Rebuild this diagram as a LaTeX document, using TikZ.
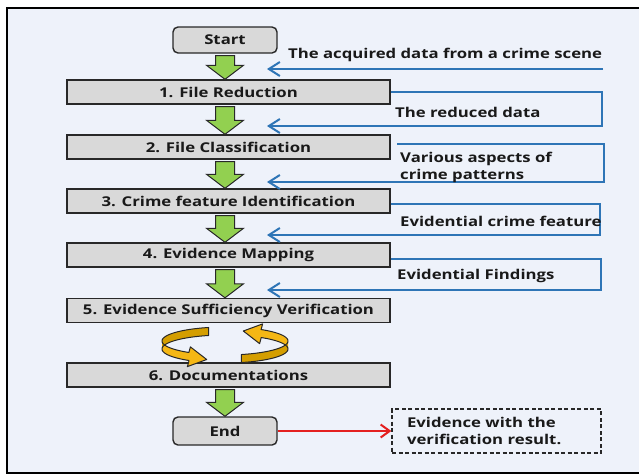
\documentclass[tikz,border=0pt]{standalone}
\usepackage{fontspec}
\setmainfont{Open Sans}[FakeStretch=1.24]
\usetikzlibrary{arrows.meta,calc}
\definecolor{bgc}{RGB}{238,242,250}
\definecolor{boxc}{RGB}{217,217,217}
\definecolor{greenc}{RGB}{146,208,80}
\definecolor{bluec}{RGB}{46,117,182}
\definecolor{redc}{RGB}{228,32,32}
\definecolor{goldf}{RGB}{245,183,20}
\definecolor{goldb}{RGB}{212,158,0}
\definecolor{edge}{RGB}{40,40,40}
\newcommand\grarrow[2]{%
  \filldraw[garr] let \p1=(#1.south), \p2=(#2.north), \p3=(start.south) in
    (\x3-9.5pt,\y1-2pt) -- (\x3+9.5pt,\y1-2pt) -- (\x3+9.5pt,\y2+14pt) --
    (\x3+18.5pt,\y2+14pt) -- (\x3,\y2) -- (\x3-18.5pt,\y2+14pt) --
    (\x3-9.5pt,\y2+14pt) -- cycle;}
\begin{document}
\begin{tikzpicture}[x=1pt,y=-1pt,
  lbl/.style={font=\fontsize{13.5}{17}\selectfont\bfseries, text=black!90, inner sep=0pt},
  stepbox/.style={draw=edge, line width=1.4pt, fill=boxc, minimum width=323pt,
    minimum height=24pt, lbl},
  termbox/.style={stepbox, rounded corners=5pt, minimum width=104pt, minimum height=26pt},
  garr/.style={draw=edge, fill=greenc, line width=1pt, line join=miter},
  bluearr/.style={draw=bluec, line width=2pt, -{Straight Barb[length=11pt,width=14pt]}},
  redarr/.style={draw=redc, line width=2pt, -{Straight Barb[length=9pt,width=13pt]}},
  ribbon/.style={draw=edge, line width=1pt, line join=round}
]
\useasboundingbox (0,0) rectangle (639,475);
\fill[white] (0,0) rectangle (639,475);
\draw[line width=1.8pt, fill=bgc] (7,8) rectangle (648,473);

% main flow boxes
\node[termbox] (start) at (225,40) {Start};
\node[stepbox] (b1) at (228.5,92) {1. File Reduction};
\node[stepbox] (b2) at (228.5,147) {2. File Classification};
\node[stepbox] (b3) at (228.5,201) {3. Crime feature Identification};
\node[stepbox] (b4) at (228.5,255) {4. Evidence Mapping};
\node[stepbox] (b5) at (228.5,310.5) {5. Evidence Sufficiency Verification};
\node[stepbox] (b6) at (228.5,375) {6. Documentations};
\node[termbox, minimum height=28pt] (end) at (225,431) {End};

% green block arrows
\grarrow{start}{b1}
\grarrow{b1}{b2}
\grarrow{b2}{b3}
\grarrow{b3}{b4}
\grarrow{b4}{b5}
\grarrow{b6}{end}

% blue input lines
\coordinate (a1) at (603,69);  \coordinate (t1) at (267,69);
\draw[bluearr] (a1) -- (t1);
\coordinate (r2) at (602,126); \coordinate (t2) at (267,126);
\draw[bluearr] (b1.east) -| (r2) -- (t2);
\coordinate (s3) at (397,144); \coordinate (r3) at (604,182); \coordinate (t3) at (267,182);
\draw[bluearr] (s3) -| (r3) -- (t3);
\coordinate (r4) at (600,235); \coordinate (t4) at (267,235);
\draw[bluearr] ([yshift=-3pt]b3.east) -| (r4) -- (t4);
\coordinate (r5) at (601,290); \coordinate (t5) at (267,290);
\draw[bluearr] ([yshift=-4pt]b4.east) -| (r5) -- (t5);

% labels
\node[lbl, anchor=west] (l1) at (288,55) {The acquired data from a crime scene};
\node[lbl, anchor=west] (l2) at (395,112) {The reduced data};
\node[lbl, anchor=west, align=left] (l3) at (400,167) {Various aspects of\\crime patterns};
\node[lbl, anchor=west] (l4) at (400,221) {Evidential crime feature};
\node[lbl, anchor=west] (l5) at (397,276) {Evidential Findings};

% result box
\node[lbl, draw=edge, dash pattern=on 4pt off 2.5pt, line width=1.3pt,
  minimum width=209pt, minimum height=44pt, text width=179pt, inner xsep=15pt,
  align=left] (ev) at (496.5,431) {Evidence with the\\verification result.};
\draw[redarr] (end.east) -- (ev.west);

% yellow circular arrows
% left ribbon
\fill[goldf]
  plot[domain=105:235, samples=40] ({225+63*cos(\x)},{341-14*sin(\x)})
  -- (190.4,346.9) -- (206.7,359.5) -- (187.4,366.6) -- (188.9,361)
  -- plot[domain=235:105, samples=40] ({225+63*cos(\x)},{349-14*sin(\x)}) -- cycle;
\fill[goldb]
  plot[domain=105:180, samples=30] ({225+63*cos(\x)},{341-14*sin(\x)})
  -- plot[domain=180:105, samples=30] ({225+63*cos(\x)},{349-14*sin(\x)}) -- cycle;
\draw[ribbon]
  plot[domain=105:235, samples=40] ({225+63*cos(\x)},{341-14*sin(\x)})
  -- (190.4,346.9) -- (206.7,359.5) -- (187.4,366.6) -- (188.9,361)
  -- plot[domain=235:105, samples=40] ({225+63*cos(\x)},{349-14*sin(\x)}) -- cycle;
% right ribbon
\fill[goldf]
  plot[domain=285:415, samples=40] ({225+63*cos(\x)},{341-14*sin(\x)})
  -- (262.6,323.9) -- (243.3,331.0) -- (259.6,343.6) -- (261.1,338)
  -- plot[domain=415:285, samples=40] ({225+63*cos(\x)},{349-14*sin(\x)}) -- cycle;
\fill[goldb]
  plot[domain=285:360, samples=30] ({225+63*cos(\x)},{341-14*sin(\x)})
  -- plot[domain=360:285, samples=30] ({225+63*cos(\x)},{349-14*sin(\x)}) -- cycle;
\draw[ribbon]
  plot[domain=285:415, samples=40] ({225+63*cos(\x)},{341-14*sin(\x)})
  -- (262.6,323.9) -- (243.3,331.0) -- (259.6,343.6) -- (261.1,338)
  -- plot[domain=415:285, samples=40] ({225+63*cos(\x)},{349-14*sin(\x)}) -- cycle;
\end{tikzpicture}
\end{document}
